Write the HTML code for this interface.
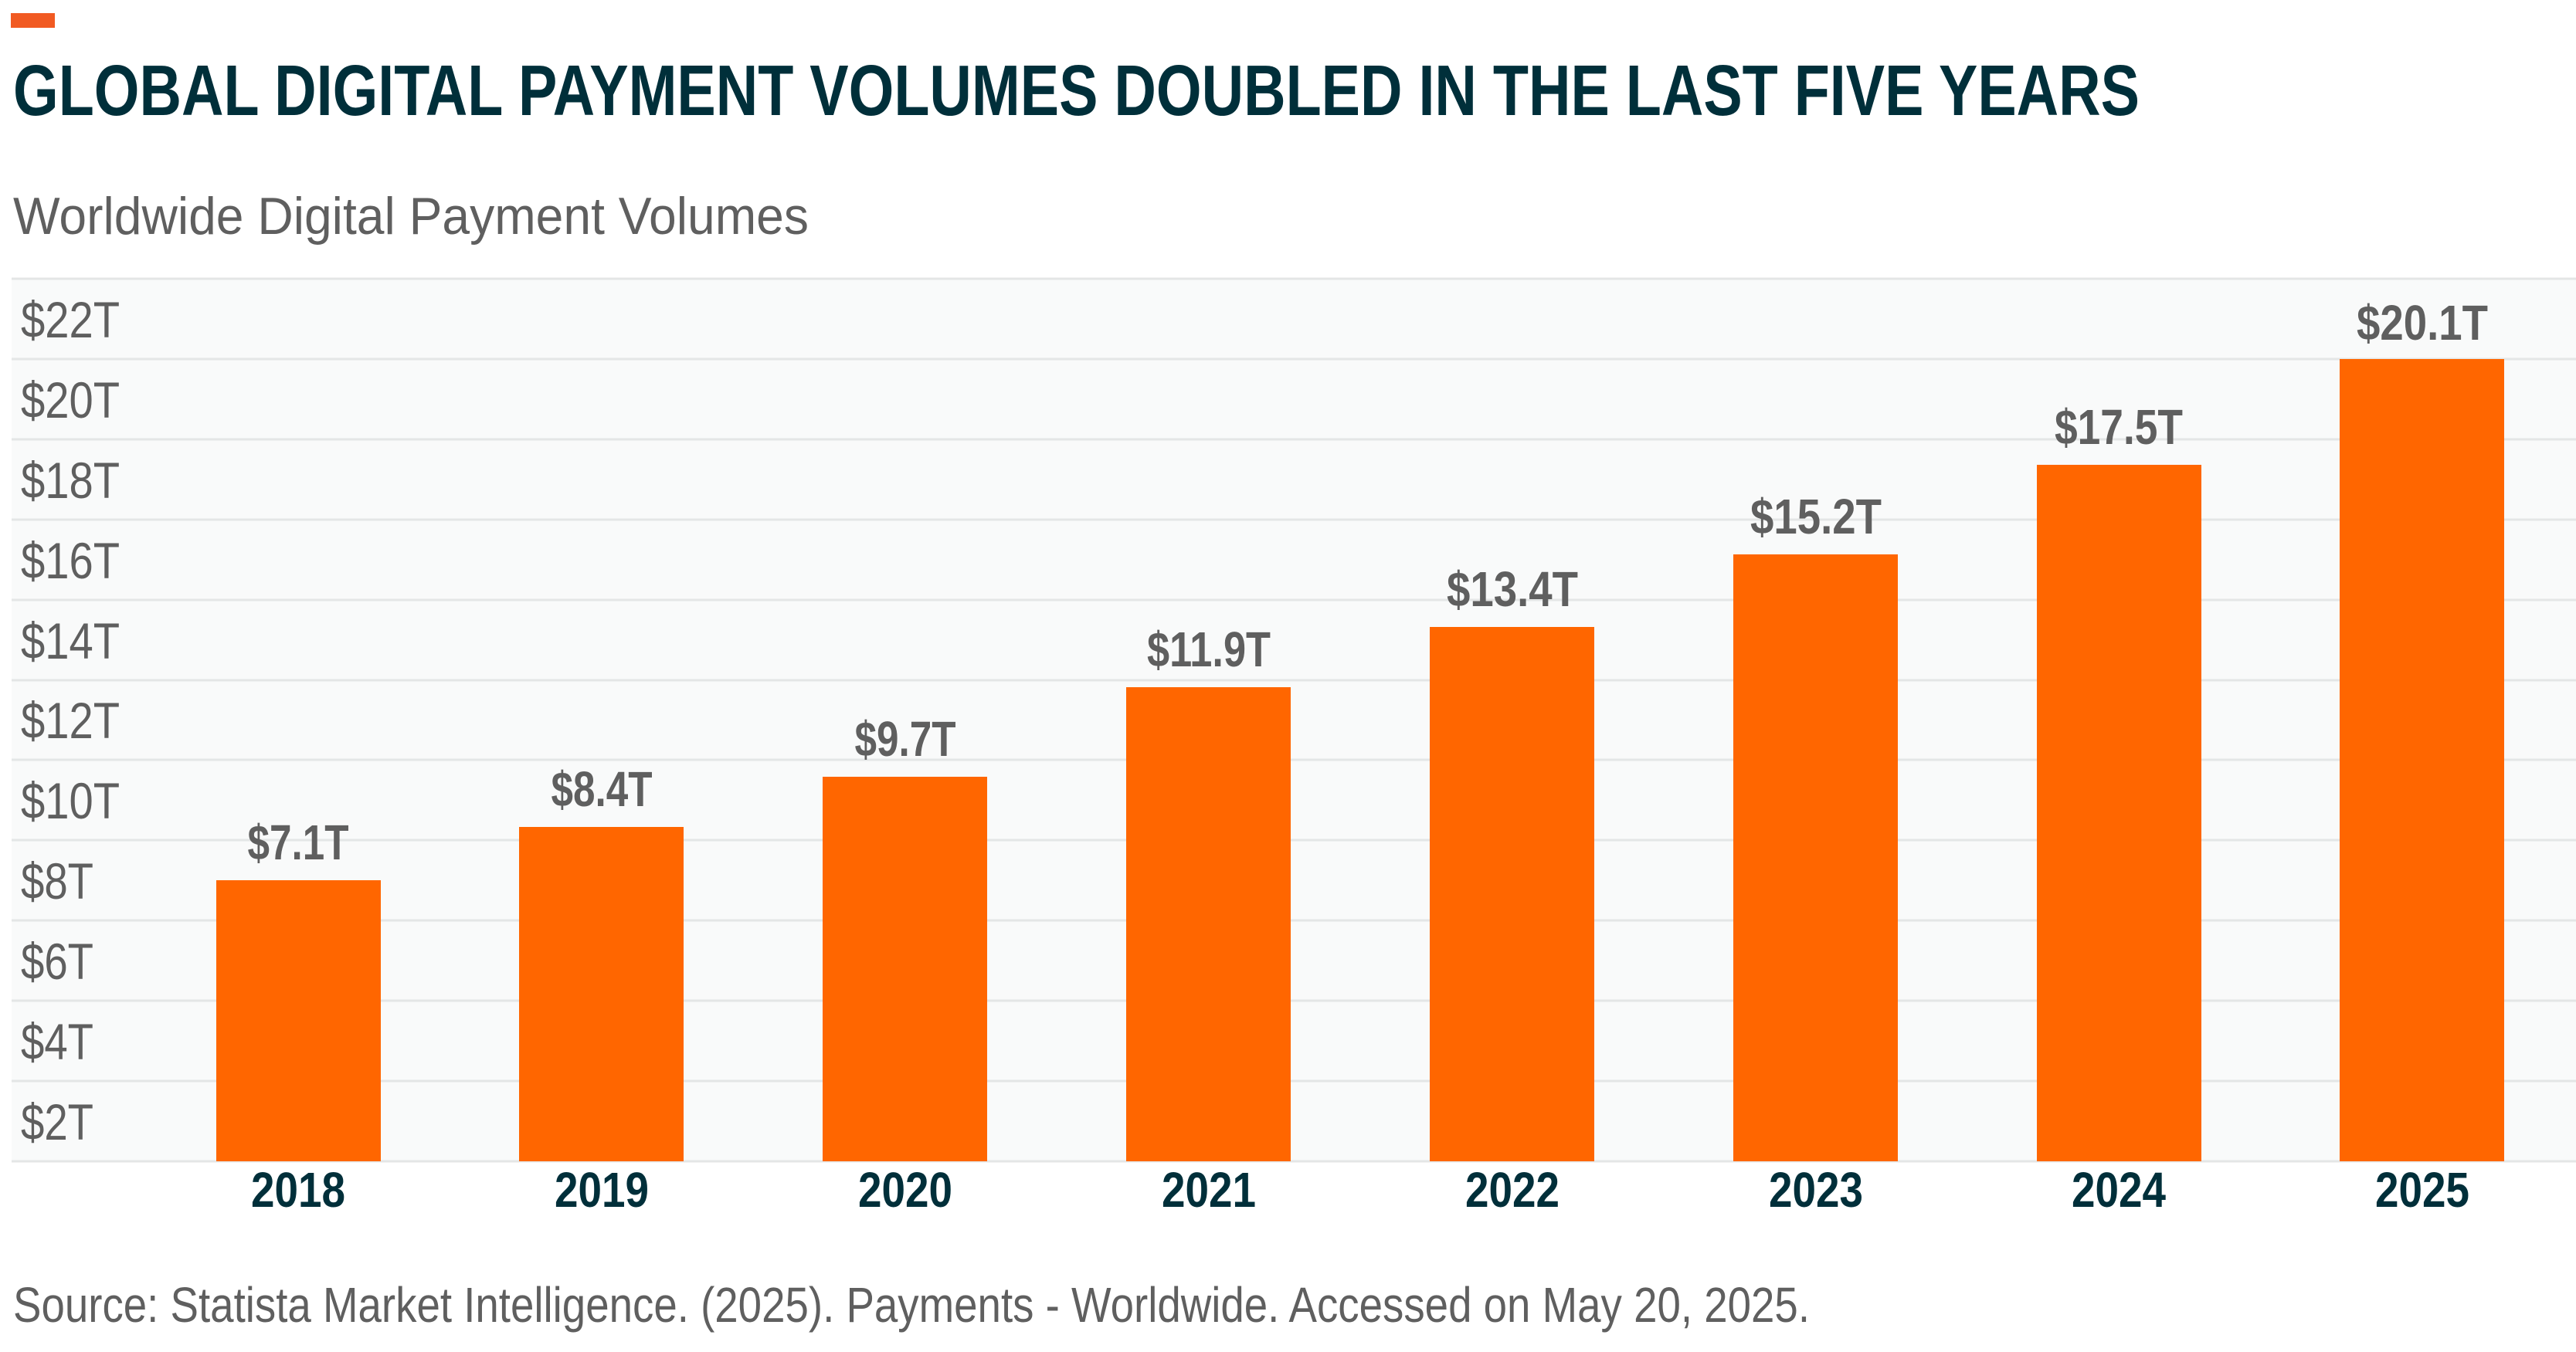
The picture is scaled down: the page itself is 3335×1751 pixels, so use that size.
<!DOCTYPE html>
<html><head><meta charset="utf-8"><style>
html,body{margin:0;padding:0;background:#fff;}
svg{display:block;}
text{font-family:"Liberation Sans",sans-serif;}
</style></head><body>
<svg width="3335" height="1751" viewBox="0 0 3335 1751" xmlns="http://www.w3.org/2000/svg">
<rect x="0" y="0" width="3335" height="1751" fill="#fff"/>
<rect x="14" y="17" width="57" height="19" fill="#f15a22"/>
<text x="17" y="149" font-size="93" font-weight="bold" fill="#002f3a" textLength="2753" lengthAdjust="spacingAndGlyphs">GLOBAL DIGITAL PAYMENT VOLUMES DOUBLED IN THE LAST FIVE YEARS</text>
<text x="17" y="303" font-size="68" fill="#5f5f5f" textLength="1030" lengthAdjust="spacingAndGlyphs">Worldwide Digital Payment Volumes</text>
<rect x="15" y="361" width="3320" height="1143" fill="#f9fafa"/>
<g stroke="#e4e6e6" stroke-width="3">
<line x1="15" x2="3335" y1="1504" y2="1504"/>
<line x1="15" x2="3335" y1="1400" y2="1400"/>
<line x1="15" x2="3335" y1="1296" y2="1296"/>
<line x1="15" x2="3335" y1="1192" y2="1192"/>
<line x1="15" x2="3335" y1="1088" y2="1088"/>
<line x1="15" x2="3335" y1="984" y2="984"/>
<line x1="15" x2="3335" y1="881" y2="881"/>
<line x1="15" x2="3335" y1="777" y2="777"/>
<line x1="15" x2="3335" y1="673" y2="673"/>
<line x1="15" x2="3335" y1="569" y2="569"/>
<line x1="15" x2="3335" y1="465" y2="465"/>
<line x1="15" x2="3335" y1="361" y2="361"/>
</g>
<g font-size="66" fill="#5f5f5f">
<text x="27" y="1476" textLength="94" lengthAdjust="spacingAndGlyphs">$2T</text>
<text x="27" y="1372" textLength="94" lengthAdjust="spacingAndGlyphs">$4T</text>
<text x="27" y="1268" textLength="94" lengthAdjust="spacingAndGlyphs">$6T</text>
<text x="27" y="1164" textLength="94" lengthAdjust="spacingAndGlyphs">$8T</text>
<text x="27" y="1060" textLength="128" lengthAdjust="spacingAndGlyphs">$10T</text>
<text x="27" y="956" textLength="128" lengthAdjust="spacingAndGlyphs">$12T</text>
<text x="27" y="853" textLength="128" lengthAdjust="spacingAndGlyphs">$14T</text>
<text x="27" y="749" textLength="128" lengthAdjust="spacingAndGlyphs">$16T</text>
<text x="27" y="645" textLength="128" lengthAdjust="spacingAndGlyphs">$18T</text>
<text x="27" y="541" textLength="128" lengthAdjust="spacingAndGlyphs">$20T</text>
<text x="27" y="437" textLength="128" lengthAdjust="spacingAndGlyphs">$22T</text>
</g>
<g fill="#ff6600">
<rect x="280" y="1140" width="213" height="364"/>
<rect x="672" y="1071" width="213" height="433"/>
<rect x="1065" y="1006" width="213" height="498"/>
<rect x="1458" y="890" width="213" height="614"/>
<rect x="1851" y="812" width="213" height="692"/>
<rect x="2244" y="718" width="213" height="786"/>
<rect x="2637" y="602" width="213" height="902"/>
<rect x="3029" y="465" width="213" height="1039"/>
</g>
<g font-size="64" font-weight="bold" fill="#5f5f5f" text-anchor="middle">
<text x="386" y="1113" textLength="131" lengthAdjust="spacingAndGlyphs">$7.1T</text>
<text x="779" y="1044" textLength="131" lengthAdjust="spacingAndGlyphs">$8.4T</text>
<text x="1172" y="979" textLength="131" lengthAdjust="spacingAndGlyphs">$9.7T</text>
<text x="1565" y="863" textLength="160" lengthAdjust="spacingAndGlyphs">$11.9T</text>
<text x="1958" y="785" textLength="170" lengthAdjust="spacingAndGlyphs">$13.4T</text>
<text x="2351" y="691" textLength="170" lengthAdjust="spacingAndGlyphs">$15.2T</text>
<text x="2743" y="575" textLength="166" lengthAdjust="spacingAndGlyphs">$17.5T</text>
<text x="3136" y="440" textLength="170" lengthAdjust="spacingAndGlyphs">$20.1T</text>
</g>
<g font-size="64" font-weight="bold" fill="#002f3a" text-anchor="middle">
<text x="386" y="1563" textLength="122" lengthAdjust="spacingAndGlyphs">2018</text>
<text x="779" y="1563" textLength="122" lengthAdjust="spacingAndGlyphs">2019</text>
<text x="1172" y="1563" textLength="122" lengthAdjust="spacingAndGlyphs">2020</text>
<text x="1565" y="1563" textLength="122" lengthAdjust="spacingAndGlyphs">2021</text>
<text x="1958" y="1563" textLength="122" lengthAdjust="spacingAndGlyphs">2022</text>
<text x="2351" y="1563" textLength="122" lengthAdjust="spacingAndGlyphs">2023</text>
<text x="2743" y="1563" textLength="122" lengthAdjust="spacingAndGlyphs">2024</text>
<text x="3136" y="1563" textLength="122" lengthAdjust="spacingAndGlyphs">2025</text>
</g>
<text x="17" y="1712" font-size="64" fill="#5f5f5f" textLength="2326" lengthAdjust="spacingAndGlyphs">Source: Statista Market Intelligence. (2025). Payments - Worldwide. Accessed on May 20, 2025.</text>
</svg>
</body></html>
